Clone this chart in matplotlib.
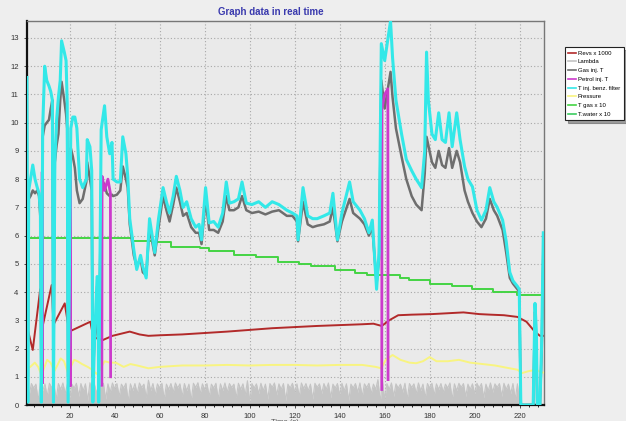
import numpy as np
import matplotlib
matplotlib.use("Agg")
import matplotlib.pyplot as plt
from matplotlib.ticker import MultipleLocator

plt.rcParams["font.family"] = ["Liberation Sans", "DejaVu Sans"]

nan = np.nan

# Revs x 1000
revs_t = [1, 1.6, 2.5, 3.6, 6.9, 7.6, 12.0, 12.8, 17.8, 19.8, 29.2, 30.5, 34.7, 39, 46.7, 51,
          55, 60, 70, 80, 90, 100, 110, 120, 130, 140, 150, 155, 158.7, 162, 166, 172, 181,
          188, 195, 202, 207, 213, 219, 223, 226.7, 229, 231]
revs = [0.9, 2.6, 2.3, 1.95, 4.1, 2.65, 4.25, 2.84, 3.6, 2.6, 2.95, 2.4, 2.3, 2.45, 2.6, 2.5,
        2.45, 2.47, 2.5, 2.55, 2.6, 2.66, 2.72, 2.76, 2.8, 2.83, 2.86, 2.88, 2.8, 3.0, 3.18,
        3.2, 3.22, 3.25, 3.28, 3.22, 3.2, 3.18, 3.12, 2.95, 2.6, 2.45, 2.45]

# Lambda: peaks on odd seconds, dips on even seconds
lambda_hi = [0.78, 0.76, 0.74, 0.78, 0.75, 0.77, 0.74, 0.76, 0.78, 0.75,
             0.74, 0.77, 0.76, 0.75, 0.79, 0.74, 0.76, 0.77, 0.75, 0.78,
             0.76, 0.74, 0.77, 0.75, 0.76, 0.78, 0.74, 0.88, 0.76, 0.75,
             0.77, 0.74, 0.76, 0.78, 0.75, 0.76, 0.74, 0.77, 0.79, 0.75,
             0.76, 0.74, 0.77, 0.75, 0.78, 0.76, 0.74, 0.77, 0.75, 0.86,
             0.76, 0.75, 0.77, 0.74, 0.76, 0.78, 0.75, 0.76, 0.74, 0.77,
             0.75, 0.78, 0.76, 0.74, 0.77, 0.75, 0.76, 0.78, 0.74, 0.76,
             0.77, 0.75, 0.74, 0.76, 0.78, 0.75, 0.77, 0.74, 0.90, 0.85,
             0.76, 0.78, 0.75, 0.74, 0.77, 0.76, 0.75, 0.78, 0.74, 0.76,
             0.77, 0.75, 0.76, 0.74, 0.78, 0.75, 0.77, 0.76, 0.74, 0.75,
             0.77, 0.76, 0.74, 0.78, 0.75, 0.76, 0.77, 0.74, 0.76, 0.75,
             0.06, 0.03, 0.04, 0.05, 0.03]
lambda_lo = [0.35, 0.60, 0.15, 0.50, 0.30, 0.62, 0.20, 0.55, 0.40, 0.25,
             0.60, 0.30, 0.50, 0.15, 0.55, 0.40, 0.62, 0.20, 0.45, 0.58,
             0.30, 0.60, 0.12, 0.50, 0.40, 0.62, 0.25, 0.50, 0.35, 0.60,
             0.20, 0.55, 0.45, 0.60, 0.30, 0.50, 0.15, 0.62, 0.40, 0.55,
             0.30, 0.60, 0.20, 0.50, 0.45, 0.62, 0.25, 0.55, 0.35, 0.10,
             0.60, 0.40, 0.50, 0.20, 0.62, 0.35, 0.55, 0.15, 0.60, 0.45,
             0.30, 0.58, 0.50, 0.20, 0.62, 0.40, 0.55, 0.25, 0.60, 0.35,
             0.50, 0.15, 0.60, 0.45, 0.30, 0.62, 0.40, 0.55, 0.10, 0.20,
             0.55, 0.30, 0.60, 0.45, 0.20, 0.62, 0.40, 0.50, 0.25, 0.60,
             0.35, 0.55, 0.45, 0.60, 0.20, 0.50, 0.62, 0.30, 0.55, 0.40,
             0.60, 0.25, 0.50, 0.45, 0.62, 0.30, 0.55, 0.40, 0.20, 0.05,
             0.02, 0.03, 0.02, 0.03, 0.02]

# injector temperatures (gas and benzine filter) share one time base
temp_t = [1.0, 1.4, 1.8, 2.6, 3.6, 4.6, 5.6, 6.4, 7.0, 7.4,
          8.0, 8.9, 9.8, 10.8, 11.6, 12.3, 12.8, 13.4, 14.2, 15.0,
          15.8, 16.4, 17.6, 18.4, 18.9, 19.3, 20.5, 21.4, 22.3, 23.2,
          24.4, 25.8, 27.4, 27.8, 29.0, 29.8, 30.3, 31.0, 31.6, 32.2,
          32.6, 32.9, 34.0, 35.5, 36.5, 37.8, 38.8, 39.3, 41.0, 42.5,
          43.6, 45.0, 45.8, 46.7, 48.5, 49.8, 51.5, 52.5, 54.0, 55.5,
          57.8, 59.5, 61.5, 63.0, 64.4, 66.0, 67.4, 69.0, 70.4, 72.0,
          74.0, 76.0, 77.5, 78.6, 80.4, 82.0, 84.0, 86.0, 88.0, 89.6,
          91.0, 93.0, 95.0, 96.6, 98.5, 101, 104, 107, 110, 113,
          116.5, 119, 121, 121.5, 123.7, 125.8, 128, 130, 133, 135.6,
          137, 139, 141, 144.4, 146, 149, 151, 153, 154.5, 156.4,
          157.5, 158.5, 160.0, 162.6, 163.5, 165, 167.5, 169.6, 172, 174,
          176.4, 177.8, 178.6, 179.4, 181, 182.5, 184, 185.5, 187, 188.6,
          190, 192, 193.5, 195.5, 197, 199, 201, 203, 205, 206.7,
          208.5, 210, 212.4, 214, 215.6, 217, 219, 219.8, 220.5, 226.0,
          226.8, 227.4, 227.8, 229.0, 229.8, 230.5]
benz_filter = [11.6, 0.1, 7.6, 8.0, 8.5, 8.0, 7.7, 7.5, 6.8, 0.1,
               9.8, 12.0, 11.5, 11.3, 11.1, 10.8, 0.1, 8.6, 10.1, 10.9,
               11.5, 12.9, 12.5, 12.2, 10.7, 0.1, 9.8, 10.2, 10.2, 9.8,
               8.0, 7.7, 8.0, 9.4, 9.15, 8.3, 0.1, 2.2, 3.4, 4.55,
               4.5, 0.1, 9.75, 10.6, 9.5, 8.9, 9.3, 8.0, 7.9, 7.9,
               9.5, 8.9, 8.1, 6.6, 5.5, 4.8, 5.3, 4.9, 4.5, 6.6,
               5.4, 6.6, 7.7, 7.2, 6.8, 7.4, 8.1, 7.6, 7.0, 7.2,
               6.6, 6.3, 6.4, 5.85, 7.7, 6.45, 6.5, 6.3, 6.8, 7.9,
               7.15, 7.2, 7.3, 7.9, 7.15, 7.1, 7.2, 7.0, 7.2, 7.1,
               6.9, 6.8, 6.7, 5.85, 7.7, 6.7, 6.6, 6.6, 6.7, 6.8,
               7.5, 5.85, 6.8, 7.9, 7.2, 6.9, 6.6, 6.1, 6.55, 4.1,
               5.4, 12.8, 12.2, 13.6, 12.3, 10.8, 9.6, 8.7, 8.3, 8.0,
               7.7, 9.0, 12.5, 10.8, 9.6, 9.4, 10.35, 9.4, 9.3, 10.35,
               9.15, 10.35, 9.4, 8.45, 8.0, 7.73, 6.9, 6.55, 6.9, 7.7,
               7.2, 7.0, 6.55, 5.8, 4.7, 4.4, 4.2, 4.1, 0.0, 0.0,
               3.6, 2.6, 0.0, 0.0, 2.3, 6.1]
gas_inj = [7.4, 1.0, 7.3, 7.4, 7.6, 7.5, 7.6, 7.4, 6.6, 1.0,
           9.5, 9.9, 10.0, 10.1, 10.5, 10.8, 1.0, 8.6, 9.2, 9.6,
           10.8, 11.45, 10.8, 10.3, 9.8, 1.0, 9.1, 8.8, 8.4, 7.6,
           7.15, 7.3, 7.9, 8.6, 8.0, 7.6, 1.0, 2.2, 2.6, 4.2,
           4.0, 1.0, 8.0, 7.8, 7.5, 7.4, 7.45, 7.4, 7.45, 7.6,
           8.45, 8.0, 7.7, 6.4, 5.3, 4.9, 5.2, 4.7, 4.6, 6.3,
           5.3, 6.3, 7.4, 6.9, 6.5, 7.1, 7.7, 7.2, 6.7, 6.8,
           6.3, 6.1, 6.1, 5.7, 7.3, 6.2, 6.2, 6.1, 6.5, 7.4,
           6.9, 6.9, 7.0, 7.4, 6.9, 6.8, 6.85, 6.75, 6.85, 6.9,
           6.7, 6.7, 6.5, 5.8, 7.2, 6.4, 6.3, 6.35, 6.4, 6.5,
           7.0, 5.8, 6.5, 7.3, 6.8, 6.6, 6.4, 6.0, 6.3, 4.3,
           5.2, 11.5, 10.5, 11.8, 10.9, 9.8, 8.8, 8.0, 7.4, 7.1,
           6.9, 8.2, 9.5, 9.2, 8.6, 8.4, 9.0, 8.5, 8.4, 9.1,
           8.4, 9.0, 8.6, 7.6, 7.2, 6.8, 6.5, 6.3, 6.6, 7.3,
           6.9, 6.7, 6.2, 5.4, 4.5, 4.3, 4.1, 4.0, 0.0, 0.0,
           3.3, 2.0, 0.0, 0.0, 2.0, 5.5]

# Petrol injector temperature only logged around fuel switch-overs
petrol_t = [7.7, 7.75, 7.85, 7.9, nan, 20.1, 20.15, 20.25, 20.3, nan,
            34.3, 34.4, 35.5, 37.0, 38.1, 38.2, nan, 158.7, 158.8, 160.0, 161.4, 161.5]
petrol = [0.8, 8.25, 8.25, 0.8, nan, 0.7, 8.3, 8.3, 0.7, nan,
          0.7, 8.1, 7.6, 8.0, 7.5, 1.0, nan, 0.55, 10.5, 11.0, 11.2, 0.9]

# Pressure
press_t = [1, 2.5, 4.5, 6, 7.5, 8.8, 10, 11.5, 13.2, 14.5,
           16, 17.5, 19.2, 20.5, 22, 23.5, 25.5, 28, 30, 32,
           33.5, 35.5, 38, 40.5, 44, 47, 50, 55, 60, 70,
           80, 90, 100, 110, 120, 130, 140, 150, 156, 158.5,
           160.5, 163.5, 167, 171, 174, 177, 180, 183, 188, 193,
           198, 203.6, 209, 215.6, 219, 221, 224, 227.5, 229.5, 231]
pressure = [1.3, 1.35, 1.5, 1.35, 1.05, 1.35, 1.6, 1.5, 1.2, 1.4,
            1.65, 1.55, 1.15, 1.35, 1.6, 1.55, 1.45, 1.35, 1.25, 1.1,
            1.25, 1.55, 1.5, 1.5, 1.35, 1.45, 1.4, 1.3, 1.35, 1.4,
            1.4, 1.42, 1.4, 1.42, 1.42, 1.4, 1.42, 1.42, 1.35, 1.3,
            1.6, 1.77, 1.6, 1.5, 1.48, 1.55, 1.7, 1.55, 1.55, 1.6,
            1.5, 1.45, 1.4, 1.3, 1.25, 1.13, 1.2, 1.25, 1.15, 1.15]

# T gas x 10 (stepped)
tgas_t = [1, 48, 57, 65, 78, 82, 93, 103, 112.6, 122, 127.4, 137.8, 147, 152,
          167, 171, 180, 190, 199, 208, 219, 231]
tgas = [5.9, 5.82, 5.78, 5.61, 5.56, 5.44, 5.32, 5.24, 5.08, 5.0, 4.93, 4.79, 4.69, 4.6,
        4.5, 4.43, 4.3, 4.2, 4.1, 4.0, 3.9, 3.9]

# T water x 10: no samples in this log
twater_t = []
twater = []

labels = ["Revs x 1000", "Lambda", "Gas inj. T", "Petrol inj. T",
          "T inj. benz. filter", "Pressure", "T gas x 10", "T.water x 10"]
colors = ["#b22a2a", "#c4c4c4", "#6e6e6e", "#cc3acc",
          "#33e8e8", "#f8f480", "#44d444", "#3ccc60"]

# interleave lambda peaks and dips onto a 1 s grid
lam_t = np.arange(1, 231)
lam = np.empty(230)
lam[0::2] = lambda_hi
lam[1::2] = lambda_lo

fig = plt.figure(figsize=(6.26, 4.21), dpi=100, facecolor="#eeeeee")
ax = fig.add_axes([0.043, 0.038, 0.826, 0.912], facecolor="#eaeaea")

ax.plot(revs_t, revs, color=colors[0], lw=1.4, label=labels[0], zorder=3)
ax.fill_between(lam_t, 0, lam, color=colors[1], lw=0, zorder=2)
ax.plot(lam_t, lam, color=colors[1], lw=0.8, label=labels[1], zorder=2)
ax.plot(temp_t, gas_inj, color=colors[2], lw=1.8, label=labels[2], zorder=4)
ax.plot(petrol_t, petrol, color=colors[3], lw=2.0, label=labels[3], zorder=4)
ax.plot(temp_t, benz_filter, color=colors[4], lw=2.2, label=labels[4], zorder=5)
ax.plot(press_t, pressure, color=colors[5], lw=1.4, label=labels[5], zorder=3)
ax.plot(tgas_t, tgas, color=colors[6], lw=1.4, drawstyle="steps-post", label=labels[6], zorder=3)
ax.plot(twater_t, twater, color=colors[7], lw=1.4, label=labels[7], zorder=3)

ax.set_xlim(1, 230.8)
ax.set_ylim(0, 13.6)
ax.xaxis.set_major_locator(MultipleLocator(20))
ax.yaxis.set_major_locator(MultipleLocator(1))
ax.xaxis.set_minor_locator(MultipleLocator(4))
ax.tick_params(axis="both", labelsize=5.5, colors="#333333", length=2.5, width=0.6)
ax.tick_params(axis="x", which="minor", length=1.5, width=0.6)
ax.grid(True, color="#a8a8a8", linestyle=(0, (1, 2)), linewidth=0.8)
ax.set_axisbelow(True)

for side in ("left", "bottom"):
    ax.spines[side].set_color("#111111")
    ax.spines[side].set_linewidth(1.6)
for side in ("top", "right"):
    ax.spines[side].set_color("#777777")
    ax.spines[side].set_linewidth(1.0)

fig.text(0.432, 0.972, "Graph data in real time", color="#3a3aae",
         fontsize=7, fontweight="bold", ha="center", va="center")
fig.text(0.455, 0.004, "Time (s)", color="#555555", fontsize=5.5, ha="center", va="top")

leg = fig.legend(loc="upper left", bbox_to_anchor=(0.898, 0.895), fontsize=4.3,
                 handlelength=1.2, handletextpad=0.4, borderpad=0.55,
                 labelspacing=0.6, frameon=True, shadow=True, fancybox=False)
leg.get_frame().set_facecolor("white")
leg.get_frame().set_edgecolor("#222222")
leg.get_frame().set_linewidth(0.8)
for line in leg.get_lines():
    line.set_linewidth(1.2)

fig.savefig("out.png", dpi=100, facecolor=fig.get_facecolor())
